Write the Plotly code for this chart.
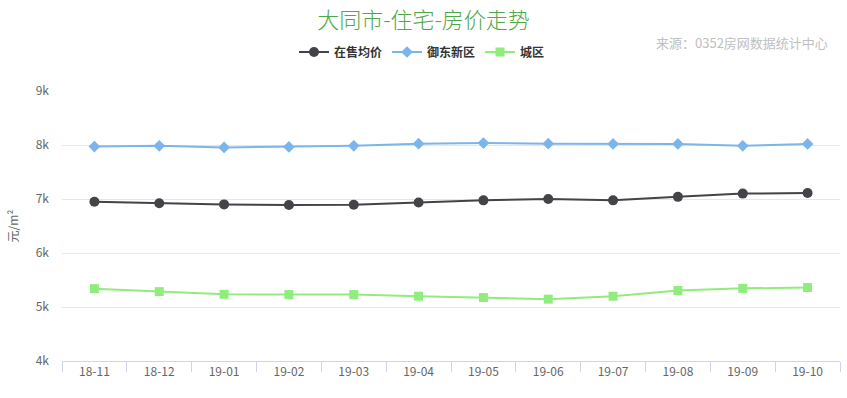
import plotly.graph_objects as go

categories = ["18-11", "18-12", "19-01", "19-02", "19-03", "19-04",
              "19-05", "19-06", "19-07", "19-08", "19-09", "19-10"]
avg_price = [6950, 6920, 6900, 6890, 6895, 6935, 6975, 7000, 6975, 7040, 7100, 7110]
yudong = [7970, 7985, 7955, 7965, 7985, 8025, 8035, 8025, 8020, 8020, 7985, 8020]
chengqu = [5340, 5285, 5235, 5230, 5230, 5200, 5175, 5145, 5200, 5305, 5345, 5360]
series_names = ["在售均价", "御东新区", "城区"]
y_tickvals = [4000, 5000, 6000, 7000, 8000, 9000]
y_ticktext = ["4k", "5k", "6k", "7k", "8k", "9k"]

FONT = "Noto Sans CJK SC, Lato, sans-serif"

fig = go.Figure()
fig.add_trace(go.Scatter(
    x=categories, y=avg_price, name=series_names[0], mode="lines+markers",
    line=dict(color="#434348", width=2),
    marker=dict(symbol="circle", size=10, color="#434348")))
fig.add_trace(go.Scatter(
    x=categories, y=yudong, name=series_names[1], mode="lines+markers",
    line=dict(color="#7cb5ec", width=2),
    marker=dict(symbol="diamond", size=9, color="#7cb5ec")))
fig.add_trace(go.Scatter(
    x=categories, y=chengqu, name=series_names[2], mode="lines+markers",
    line=dict(color="#90ed7d", width=2),
    marker=dict(symbol="square", size=9, color="#90ed7d")))

fig.update_layout(
    width=847, height=398,
    margin=dict(l=62, r=7, t=91, b=37, autoexpand=False),
    paper_bgcolor="white", plot_bgcolor="white",
    font=dict(family=FONT, color="#666666", size=12),
    showlegend=True,
    legend=dict(orientation="h", x=(422 - 62) / 778, xanchor="center",
                y=1 + (91 - 52) / 270, yanchor="middle",
                font=dict(size=12, color="#333333", family=FONT, weight="bold"),
                itemwidth=30, tracegroupgap=0,
                bgcolor="rgba(0,0,0,0)"),
    title=dict(text="大同市-住宅-房价走势", x=0.5, xanchor="center",
               y=1 - 20 / 398, yanchor="middle",
               font=dict(family=FONT, size=22, color="#50a84a", weight=300)),
    xaxis=dict(type="category", showgrid=False, showline=True, linecolor="#ccd6eb",
               linewidth=1, ticks="outside", tickson="boundaries", ticklen=10,
               tickcolor="#ccd6eb", tickfont=dict(size=12, color="#666666"),
               range=[-0.5, len(categories) - 0.5], fixedrange=True),
    yaxis=dict(range=[4000, 9000], tickvals=y_tickvals, ticktext=y_ticktext,
               showgrid=True, gridcolor="#e6e6e6", gridwidth=1, zeroline=False,
               showline=False, tickfont=dict(size=12, color="#666666"),
               ticks="", ticklabelstandoff=12,
               title=dict(text="元/m²", font=dict(size=12, color="#666666"), standoff=14)),
)

fig.add_annotation(text="来源：0352房网数据统计中心", xref="paper", yref="paper",
                   x=(830 - 62) / 778, y=1 + (91 - 43) / 270,
                   xanchor="right", yanchor="middle", showarrow=False,
                   font=dict(family=FONT, size=13, color="#c0c0c0"))

fig.write_html("out.html", config={"displayModeBar": False},
               post_script="document.body.style.margin='0';document.body.style.overflow='hidden';")
